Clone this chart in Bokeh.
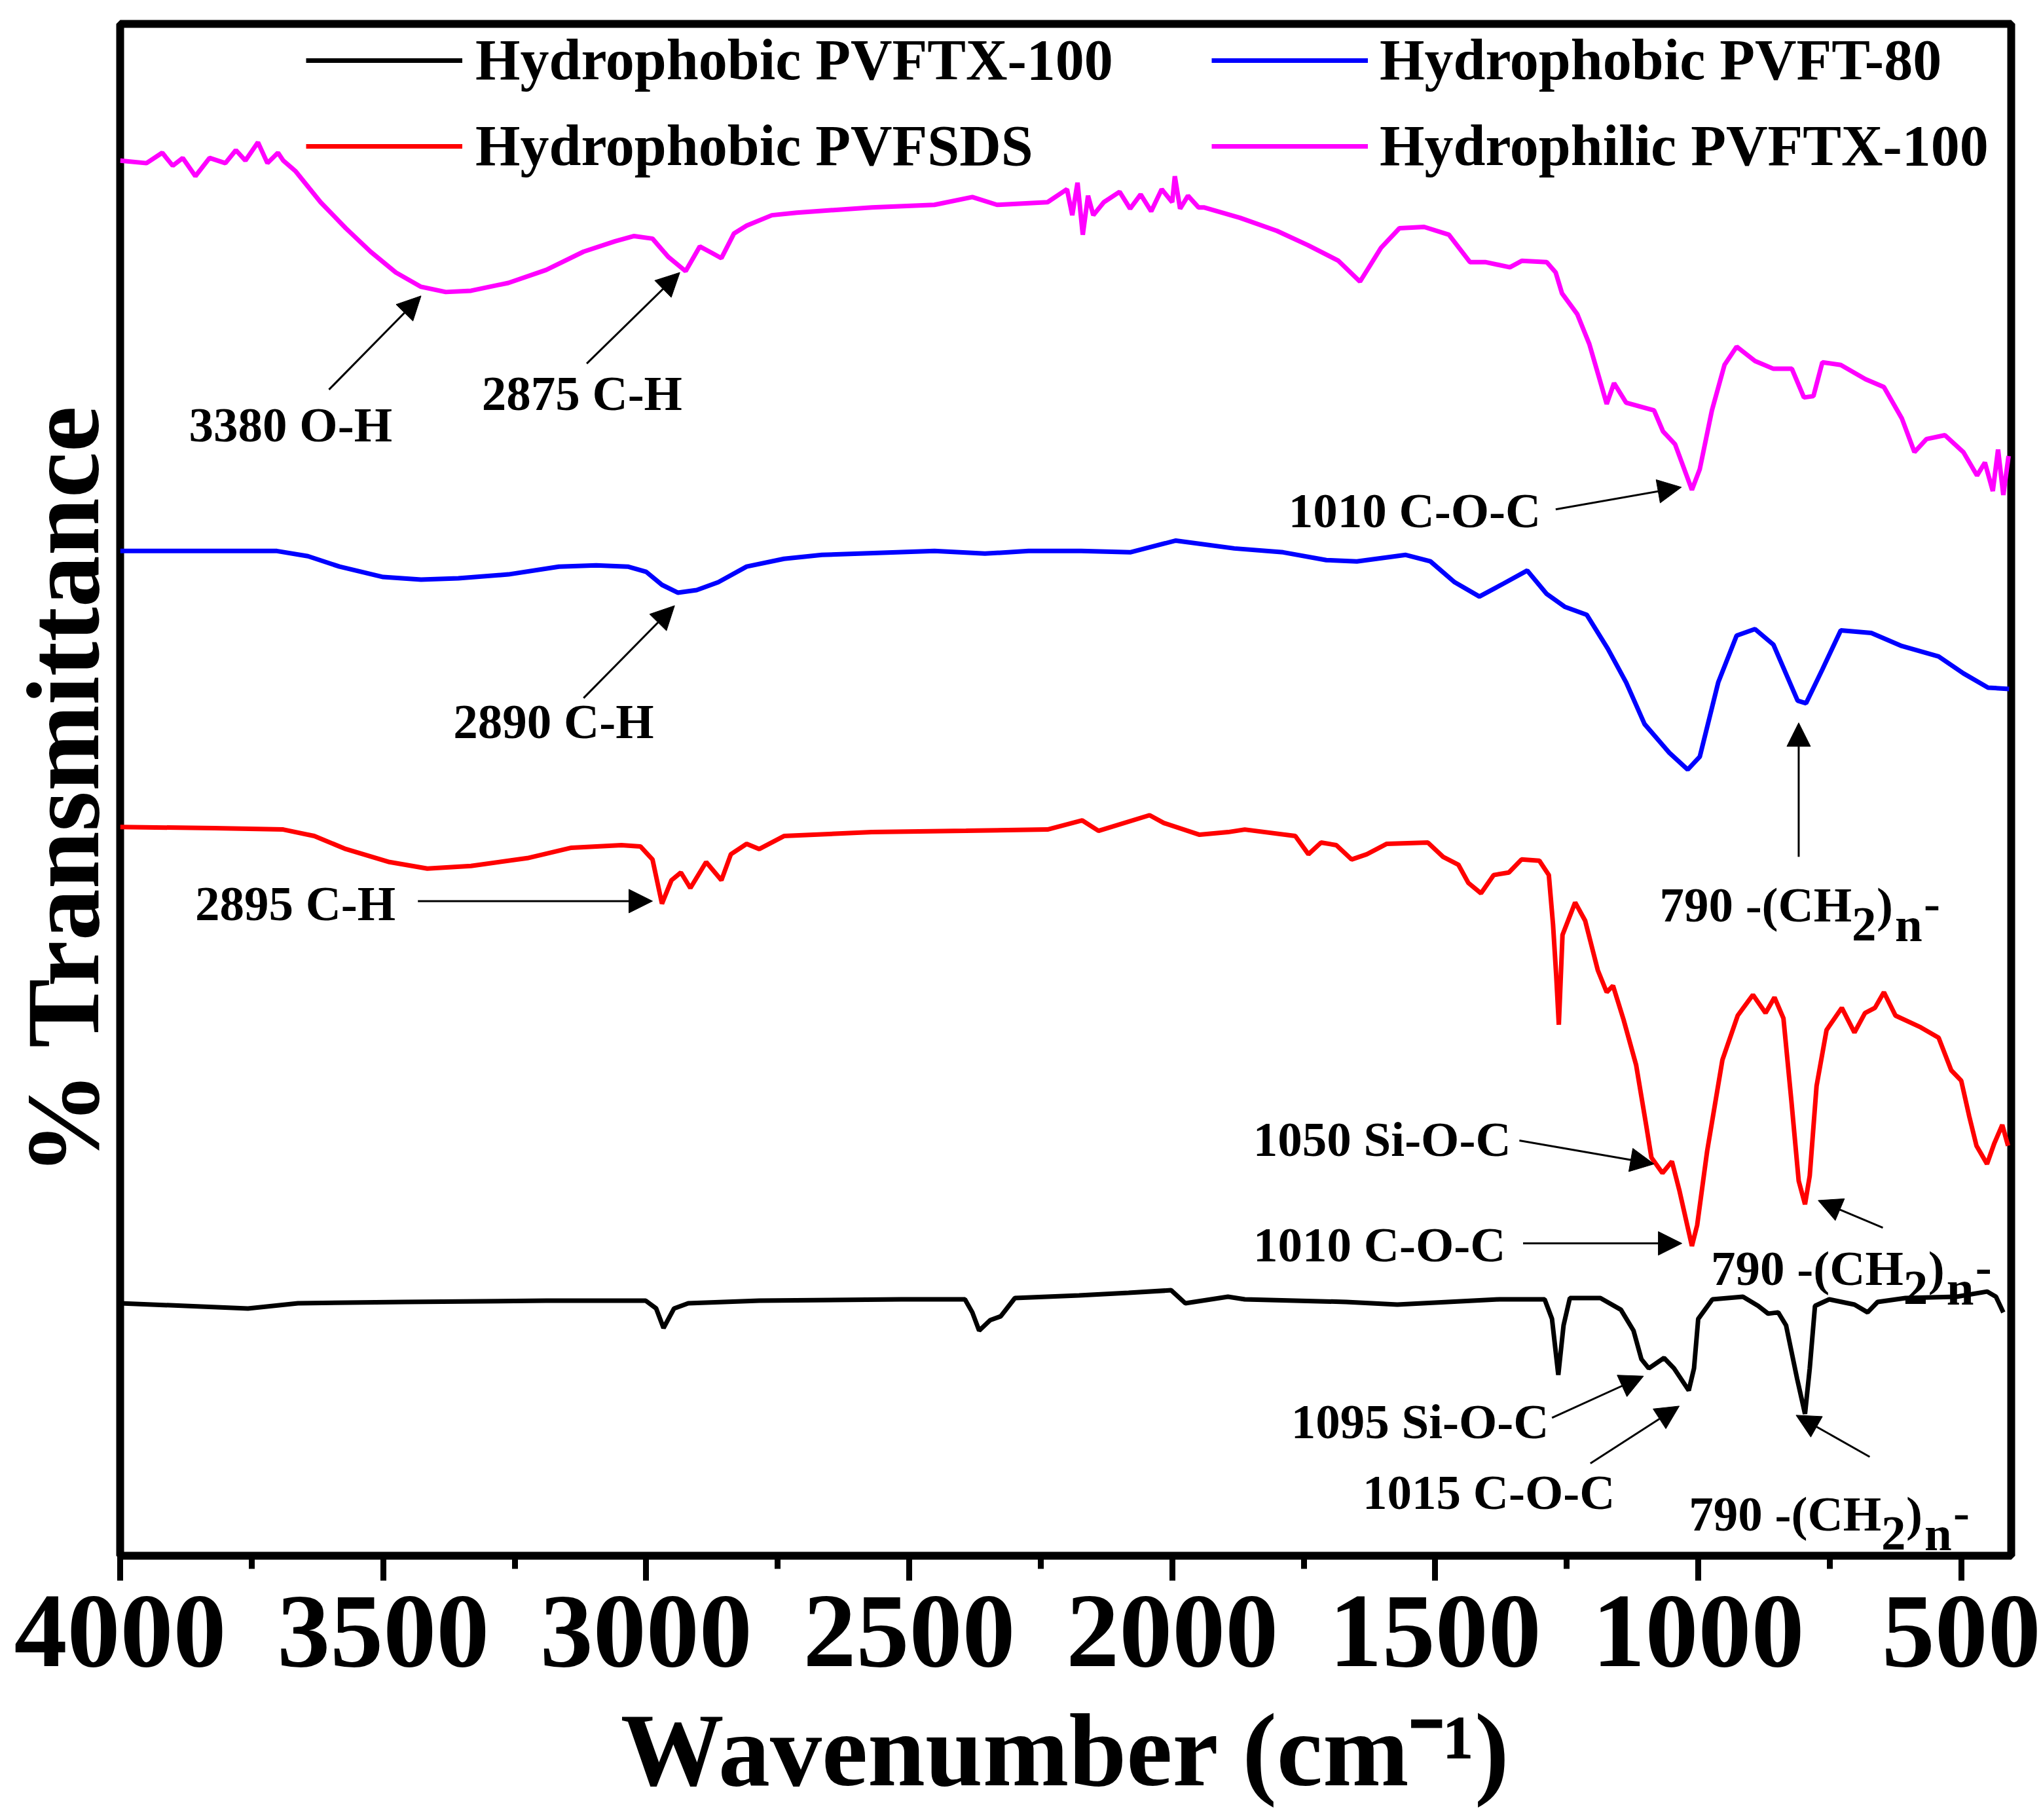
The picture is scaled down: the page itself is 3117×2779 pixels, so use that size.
from bokeh.plotting import figure
from bokeh.models import (Range1d, SingleIntervalTicker, FixedTicker, Legend, LegendItem,
                          Arrow, NormalHead, ColumnDataSource)
from bokeh.core.properties import value
from bokeh.embed import file_html
from bokeh.resources import INLINE

FONT = "Liberation Serif"

# ---- FTIR spectra (wavenumber in cm-1, offset transmittance in a.u.) ----
phil_tx100_wn = [4000, 3950, 3920, 3900, 3881, 3857, 3830, 3800, 3780, 3762, 3738, 3720,
                 3700, 3690, 3667, 3619, 3571, 3524, 3476, 3428,
                 3381, 3333, 3262, 3190, 3119, 3059, 3023, 2988, 2958, 2925, 2898, 2875,
                 2857, 2833, 2809, 2761, 2714, 2571, 2452, 2380, 2333, 2237, 2200, 2190,
                 2180, 2170, 2160, 2150, 2130, 2100, 2080, 2060, 2040, 2020, 2000, 1995,
                 1985, 1970, 1950, 1940, 1871, 1801, 1742, 1684, 1643, 1603, 1568, 1521,
                 1474, 1434, 1405, 1358, 1335, 1288, 1271, 1259, 1230, 1207, 1189, 1174,
                 1160, 1137, 1084, 1067, 1044, 1012, 997, 974, 950, 927, 892, 857, 822,
                 799, 781, 764, 729, 682, 647, 613, 589, 566, 531, 496, 470, 455, 440,
                 430, 420, 410]
phil_tx100_t = [1072, 1070, 1078, 1068, 1074, 1060, 1074, 1070, 1080, 1072, 1086, 1070,
                1078, 1072, 1064, 1040, 1020, 1002, 986, 975,
                971, 972, 978, 988, 1002, 1010, 1014, 1012, 998, 987, 1006, 1001,
                997, 1016, 1022, 1030, 1032, 1036, 1038, 1044, 1038, 1040, 1050, 1030,
                1055, 1015, 1045, 1030, 1040, 1048, 1035, 1046, 1033, 1050, 1040, 1060,
                1035, 1045, 1036, 1036, 1028, 1018, 1007, 995, 979, 1005, 1020, 1021,
                1015, 994, 994, 990, 995, 994, 986, 970, 954, 931, 906, 885,
                901, 886, 880, 864, 854, 819, 835, 880, 915, 929, 918, 912, 912,
                890, 891, 917, 915, 904, 898, 874, 848, 858, 861, 848, 830, 840, 818,
                850, 815, 845]

pvft80_wn = [4000, 3702, 3643, 3583, 3500, 3428, 3357, 3262, 3166, 3095, 3035, 3000,
             2970, 2940, 2904, 2863, 2809, 2738, 2666, 2452, 2356, 2273, 2173, 2080,
             1993, 1882, 1789, 1707, 1649, 1556, 1509, 1463, 1416, 1370, 1325, 1288,
             1253, 1212, 1172, 1137, 1102, 1055, 1020, 997, 962, 927, 892, 857, 811,
             795, 764, 729, 671, 613, 543, 496, 449, 409]
pvft80_t = [772, 772, 768, 760, 752, 750, 751, 754, 760, 761, 760, 756,
            746, 740, 742, 748, 760, 766, 769, 772, 770, 772, 772, 771,
            780, 774, 771, 765, 764, 769, 764, 748, 737, 747, 757, 739,
            729, 723, 697, 671, 639, 617, 604, 614, 671, 707, 712, 700, 657,
            655, 681, 711, 709, 699, 691, 678, 667, 666]

pvfsds_wn = [4000, 3821, 3690, 3631, 3571, 3488, 3416, 3333, 3226, 3142, 3047, 3011,
             2988, 2970, 2952, 2934, 2916, 2886, 2857, 2839, 2809, 2785, 2738, 2571,
             2392, 2237, 2171, 2140, 2043, 2016, 1948, 1894, 1862, 1766, 1741, 1717,
             1688, 1659, 1630, 1592, 1514, 1485, 1456, 1437, 1413, 1389, 1360, 1336,
             1302, 1284, 1276, 1270, 1265, 1258, 1234, 1215, 1191, 1174, 1162, 1142,
             1118, 1099, 1089, 1068, 1050, 1036, 1012, 1002, 983, 954, 925, 896, 872,
             855, 838, 823, 809, 797, 788, 775, 756, 727, 703, 683, 664, 647, 625,
             577, 543, 519, 500, 485, 471, 451, 437, 422, 411]
pvfsds_t = [560, 559, 558, 553, 543, 533, 528, 530, 536, 544, 546, 545,
            535, 501, 519, 525, 513, 533, 519, 539, 547, 543, 553, 556,
            557, 558, 565, 557, 569, 563, 554, 556, 558, 553, 539, 548,
            546, 535, 539, 547, 548, 537, 531, 517, 509, 523, 525, 535,
            534, 523, 485, 446, 408, 477, 502, 488, 450, 433, 438, 412,
            377, 331, 306, 294, 303, 281, 238, 254, 311, 381, 415, 431, 417,
            429, 413, 350, 288, 270, 292, 361, 404, 421, 402, 417, 421, 433, 415,
            406, 398, 373, 365, 338, 315, 301, 317, 331, 315]

pvftx100_wn = [4000, 3757, 3662, 3460, 3190, 3001, 2981, 2967, 2947, 2920, 2785, 2515,
               2394, 2380, 2367, 2346, 2326, 2299, 2177, 2083, 2002, 1975, 1894, 1862,
               1669, 1572, 1476, 1379, 1292, 1278, 1266, 1256, 1244, 1186, 1147, 1123,
               1108, 1094, 1065, 1046, 1018, 1008, 1000, 973, 915, 886, 867, 848, 833,
               812, 797, 788, 778, 751, 703, 678, 659, 606, 509, 451, 434, 420]
pvftx100_t = [194, 190, 194, 195, 196, 196, 190, 175, 190, 194, 196, 197,
              197, 187, 173, 181, 184, 198, 200, 202, 204, 194, 199, 197,
              195, 193, 195, 197, 197, 182, 139, 177, 198, 198, 189, 173,
              151, 144, 152, 144, 127, 144, 182, 197, 199, 192, 186, 187, 177,
              136, 109, 144, 192, 197, 193, 187, 195, 198, 199, 203, 199, 187]

# ---- band assignments: (text, centre wavenumber, centre y) ----
band_text = ["3380 O-H", "2875 C-H", "2890 C-H", "2895 C-H", "1010 C-O-C",
             "1050 Si-O-C", "1010 C-O-C", "1095 Si-O-C", "1015 C-O-C"]
band_x = [3676, 3122, 3176, 3667, 1539, 1601, 1606, 1529, 1398]
band_y = [869, 893, 641, 501, 803, 320, 239, 103, 49]

# arrows pointing from the assignment text to the band
arrow_x0 = [3603, 3113, 3119, 3434, 1271, 809, 1340, 1333, 649, 1278, 1205, 674]
arrow_y0 = [896, 916, 659, 503, 804, 537, 319, 240, 252, 106, 71, 76]
arrow_x1 = [3428, 2936, 2946, 2988, 1032, 809, 1084, 1031, 772, 1104, 1036, 814]
arrow_y1 = [968, 986, 730, 503, 821, 640, 301, 240, 273, 138, 115, 108]

# "-(CH2)n-" labels: anchor after "CH", on the text baseline
ch2_x = [708, 610, 652]
ch2_y = [500, 221, 32]

p = figure(width=3117, height=2779, output_backend="svg", toolbar_location=None,
           x_range=Range1d(4000, 405), y_range=Range1d(0, 1177),
           min_border_left=183, min_border_right=46, min_border_top=36,
           min_border_bottom=404)
p.background_fill_color = "white"
p.border_fill_color = "white"
p.xgrid.visible = False
p.ygrid.visible = False
p.outline_line_color = "black"
p.outline_line_width = 12

# x axis
xa = p.xaxis[0]
xa.ticker = SingleIntervalTicker(interval=500, num_minor_ticks=2)
xa.axis_line_color = None
xa.major_tick_in = 0
xa.major_tick_out = 38
xa.minor_tick_in = 0
xa.minor_tick_out = 20
xa.major_tick_line_width = 9
xa.minor_tick_line_width = 9
xa.major_tick_line_color = "black"
xa.minor_tick_line_color = "black"
xa.major_label_text_font = FONT
xa.major_label_text_font_style = "bold"
xa.major_label_text_font_size = "162px"
xa.major_label_text_color = "black"
xa.major_label_standoff = 24
xa.axis_label = "Wavenumber (cm\u207b\u00b9)"
xa.axis_label_text_font = FONT
xa.axis_label_text_font_style = "bold"
xa.axis_label_text_font_size = "158px"
xa.axis_label_text_color = "black"
xa.axis_label_standoff = 38

# y axis: title only
ya = p.yaxis[0]
ya.ticker = FixedTicker(ticks=[])
ya.axis_line_color = None
ya.major_tick_out = 0
ya.major_tick_in = 0
ya.minor_tick_out = 0
ya.minor_tick_in = 0
ya.major_label_standoff = 0
ya.axis_label = "% Transmittance"
ya.axis_label_text_font = FONT
ya.axis_label_text_font_style = "bold"
ya.axis_label_text_font_size = "158px"
ya.axis_label_text_color = "black"
ya.axis_label_standoff = 0

LW = 7
r_black = p.line(pvftx100_wn, pvftx100_t, line_color="#000000", line_width=LW)
r_red = p.line(pvfsds_wn, pvfsds_t, line_color="#FF0000", line_width=LW)
r_blue = p.line(pvft80_wn, pvft80_t, line_color="#0000FF", line_width=LW)
r_mag = p.line(phil_tx100_wn, phil_tx100_t, line_color="#FF00FF", line_width=LW)

# band labels
p.text(x=band_x, y=band_y, text=band_text, text_font=value(FONT),
       text_font_style="bold", text_font_size="75px", text_color="black",
       text_align="center", text_baseline="middle")

# -(CH2)n- labels built from pieces with subscripts
p.text(x=ch2_x, y=ch2_y, text=["790 -(CH"] * 3, text_font=value(FONT),
       text_font_style="bold", text_font_size="75px", text_color="black",
       text_align="right", text_baseline="alphabetic")
for piece, dx, dy in [("2", 0, 30), (")", 38, 0), ("n", 66, 30), ("-", 110, -2)]:
    p.text(x=ch2_x, y=ch2_y, text=[piece] * 3, x_offset=dx, y_offset=dy,
           text_font=value(FONT), text_font_style="bold", text_font_size="75px",
           text_color="black", text_align="left", text_baseline="alphabetic")

arrows = ColumnDataSource(dict(x0=arrow_x0, y0=arrow_y0, x1=arrow_x1, y1=arrow_y1))
p.add_layout(Arrow(x_start="x0", y_start="y0", x_end="x1", y_end="y1", source=arrows,
                   line_color="black", line_width=3,
                   end=NormalHead(size=36, fill_color="black", line_color="black",
                                  line_width=1)))


def make_legend(items, loc, standoff):
    return Legend(items=items, location=loc, orientation="vertical",
                  background_fill_alpha=0, border_line_color=None,
                  padding=0, margin=0, spacing=30,
                  glyph_width=239, glyph_height=100, label_height=100,
                  label_standoff=standoff, label_text_font=FONT,
                  label_text_font_style="bold", label_text_font_size="88px",
                  label_text_color="black")


leg_left = make_legend([LegendItem(label="Hydrophobic PVFTX-100", renderers=[r_black]),
                        LegendItem(label="Hydrophobic PVFSDS", renderers=[r_red])],
                       (284, 2102), 20)
leg_right = make_legend([LegendItem(label="Hydrophobic PVFT-80", renderers=[r_blue]),
                         LegendItem(label="Hydrophilic PVFTX-100", renderers=[r_mag])],
                        (1667, 2102), 18)
p.add_layout(leg_left)
p.add_layout(leg_right)

open("out.html", "w").write(file_html(p, INLINE))
